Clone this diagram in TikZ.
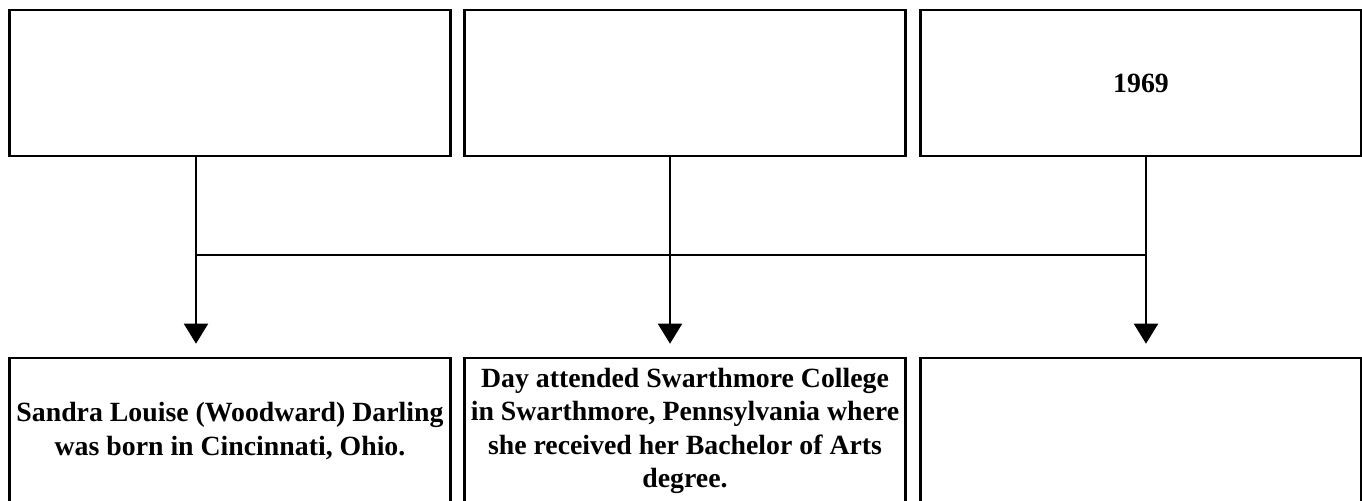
\documentclass[tikz,border=0pt]{standalone}
\usepackage{fontspec}
\setmainfont{Liberation Serif}
\usetikzlibrary{arrows.meta}
\usetikzlibrary{positioning}

\tikzset{
  boxnode/.style={rectangle,draw=black,line width=1.3pt,fill=white,
    minimum width=220.5pt,minimum height=73pt,inner sep=2pt,
    align=center,
    font=\fontsize{13.9}{16.7}\selectfont\bfseries},
  linkline/.style={draw=black,line width=1pt},
  linkarrow/.style={linkline,-{Triangle[width=12pt,length=10pt]},shorten >=6.5pt}
}

\begin{document}
\begin{tikzpicture}[x=0.5pt,y=-0.5pt]
\useasboundingbox (0,0) rectangle (1362,500);
\clip (0,0) rectangle (1362,500);
\fill[white] (0,0) rectangle (1362,500);

% top row
\node[boxnode] (top1) at (230,83) {};
\node[boxnode] (top2) at (685,83) {};
\node[boxnode] (top3) at (1141,83) {1969};

% bottom row
\node[boxnode] (bot1) at (230,431) {Sandra Louise (Woodward) Darling\\was born in Cincinnati, Ohio.};
\node[boxnode] (bot2) at (685,431) {Day attended Swarthmore College\\in Swarthmore, Pennsylvania where\\she received her Bachelor of Arts\\degree.};
\node[boxnode] (bot3) at (1141,431) {};

% joints on the cross line
\coordinate (j1) at (196,255);
\coordinate (j2) at (670,255);
\coordinate (j3) at (1146,255);

\draw[linkline] (j1) -- (j3);
\foreach \i in {1,2,3}{
  \draw[linkline] (top\i.south -| j\i) -- (j\i);
  \draw[linkarrow] (j\i) -- (bot\i.north -| j\i);
}

\end{tikzpicture}
\end{document}
